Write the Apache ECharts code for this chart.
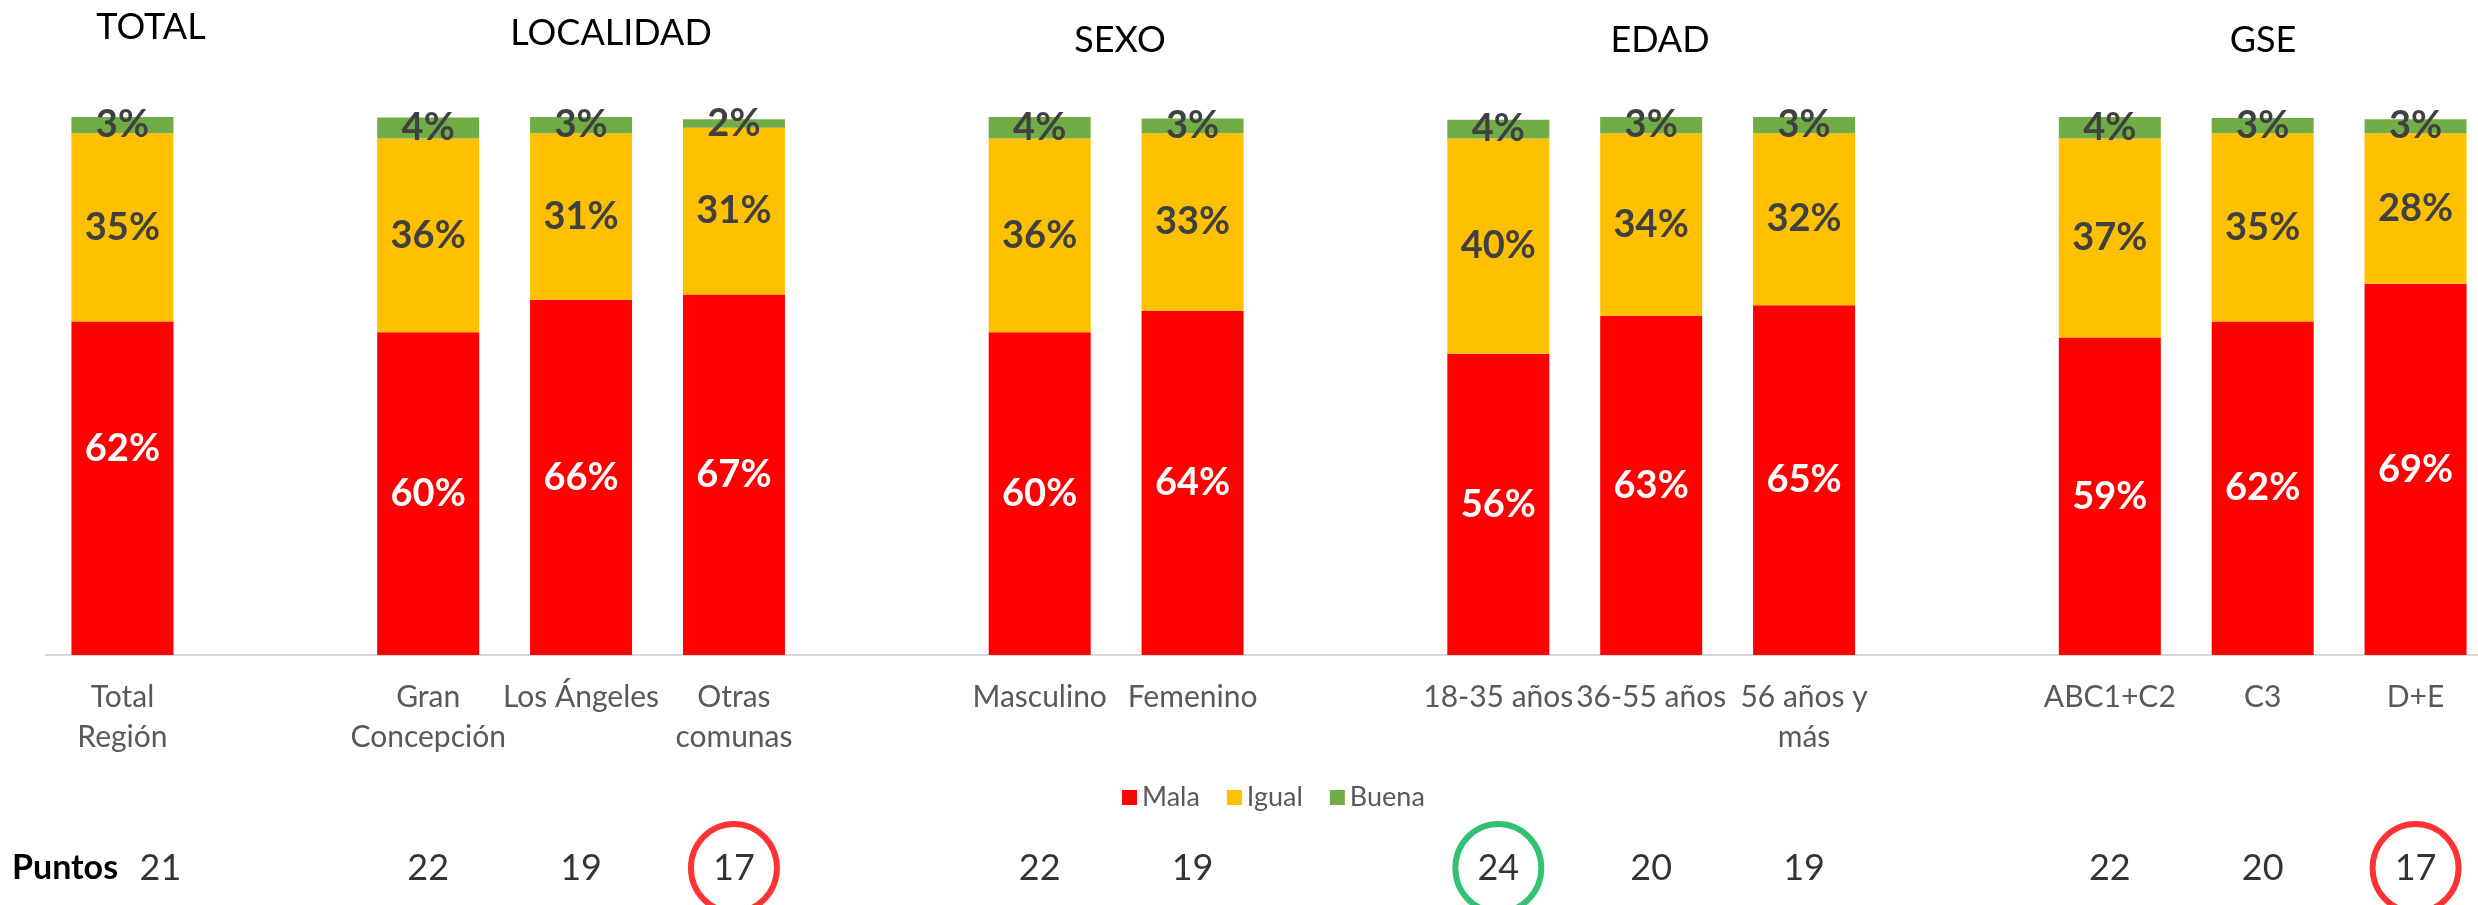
<!DOCTYPE html>
<html>
<head>
<meta charset="utf-8">
<script src="https://cdn.jsdelivr.net/npm/echarts@6/dist/echarts.min.js"></script>
<style>
  html, body { margin: 0; padding: 0; background: #fff; }
  #main { width: 2478px; height: 905px; }
</style>
</head>
<body>
<div id="main"></div>
<script>
// categorías (los huecos separan los grupos)
const categories = ['Total\nRegión', ' ', 'Gran\nConcepción', 'Los Ángeles', 'Otras\ncomunas', '  ',
  'Masculino', 'Femenino', '   ', '18-35 años', '36-55 años', '56 años y\nmás', '    ',
  'ABC1+C2', 'C3', 'D+E'];
const mala  = [62, null, 60, 66, 67, null, 60, 64, null, 56, 63, 65, null, 59, 62, 69];
const igual = [35, null, 36, 31, 31, null, 36, 33, null, 40, 34, 32, null, 37, 35, 28];
const buena = [3, null, 3.9, 3, 1.6, null, 4, 2.7, null, 3.5, 3, 3, null, 4, 2.8, 2.6];
const puntos = [21, null, 22, 19, 17, null, 22, 19, null, 24, 20, 19, null, 22, 20, 17];
const grupos = ['TOTAL', 'LOCALIDAD', 'SEXO', 'EDAD', 'GSE'];

(function () {
  const font = 'Lato, "Open Sans", sans-serif';
  const mychart = echarts.init(document.getElementById('main'));

  // posiciones de los títulos de grupo
  const tituloPos = [[151, 27], [611, 33], [1120, 40], [1660, 40], [2263, 40]];
  const graphics = grupos.map(function (t, i) {
    return {
      type: 'text', x: tituloPos[i][0], y: tituloPos[i][1],
      style: { text: t, font: '36px ' + font, fill: '#000', align: 'center', verticalAlign: 'middle' }
    };
  });
  graphics.push({
    type: 'text', x: 12, y: 868,
    style: { text: 'Puntos', font: 'bold 34px ' + font, fill: '#000', align: 'left', verticalAlign: 'middle' }
  });

  const pctLabel = function (color) {
    return {
      show: true, position: 'inside', color: color, fontFamily: font, fontWeight: 'bold', fontSize: 38,
      formatter: function (p) { return Math.round(p.value) + '%'; }
    };
  };

  // etiqueta del Total desplazada hacia arriba como en el original
  const malaData = mala.map(function (v, i) {
    if (i === 0) return { value: v, label: { offset: [0, -39] } };
    return v;
  });

  const pMin = Math.min.apply(null, puntos.filter(function (v) { return v != null; }));
  const pMax = Math.max.apply(null, puntos.filter(function (v) { return v != null; }));
  const puntosData = [], rojos = [], verdes = [];
  puntos.forEach(function (v, i) {
    if (v == null) return;
    puntosData.push(i === 0 ? { value: [i, 0.5, v], label: { offset: [38, 0] } } : { value: [i, 0.5, v] });
    if (v === pMin) rojos.push([i, 0.5]);
    if (v === pMax) verdes.push([i, 0.5]);
  });

  const circulo = function (color, data) {
    return {
      type: 'scatter', xAxisIndex: 1, yAxisIndex: 1, data: data, symbol: 'circle',
      symbolSize: [86, 88], silent: true,
      itemStyle: { color: 'transparent', borderColor: color, borderWidth: 6 }
    };
  };

  const option = {
    animation: false,
    graphic: graphics,
    legend: {
      data: ['Mala', 'Igual', 'Buena'],
      left: 1122, top: 784, padding: 0,
      icon: 'rect', itemWidth: 15, itemHeight: 15, itemGap: 27,
      textStyle: { fontFamily: font, fontSize: 27, color: '#595959' }
    },
    grid: [
      { left: 46, width: 2446, top: 117, height: 538, outerBoundsMode: 'none', containLabel: false },
      { left: 46, width: 2446, top: 840, height: 56, outerBoundsMode: 'none', containLabel: false }
    ],
    xAxis: [
      {
        type: 'category', data: categories, gridIndex: 0,
        axisLine: { lineStyle: { color: '#D9D9D9', width: 2 } },
        axisTick: { show: false },
        axisLabel: { interval: 0, margin: 22, color: '#595959', fontFamily: font, fontSize: 30, lineHeight: 40 }
      },
      { type: 'category', data: categories, gridIndex: 1, show: false }
    ],
    yAxis: [
      { type: 'value', min: 0, max: 100, show: false, gridIndex: 0 },
      { type: 'value', min: 0, max: 1, show: false, gridIndex: 1 }
    ],
    series: [
      { name: 'Mala', type: 'bar', stack: 'a', barWidth: 102, data: malaData,
        itemStyle: { color: '#FF0000' }, label: pctLabel('#fff') },
      { name: 'Igual', type: 'bar', stack: 'a', barWidth: 102, data: igual,
        itemStyle: { color: '#FFC000' }, label: pctLabel('#404040') },
      { name: 'Buena', type: 'bar', stack: 'a', barWidth: 102, data: buena,
        itemStyle: { color: '#70AD47' }, label: pctLabel('#404040') },
      {
        type: 'scatter', xAxisIndex: 1, yAxisIndex: 1, data: puntosData, symbolSize: 1,
        itemStyle: { color: 'transparent' }, silent: true,
        label: {
          show: true, position: 'inside', color: '#000', fontFamily: font, fontSize: 36,
          formatter: function (p) { return p.value[2]; }
        }
      },
      circulo('#FF0000', rojos),
      circulo('#00B050', verdes)
    ]
  };
  mychart.setOption(option);
})();
</script>
</body>
</html>
